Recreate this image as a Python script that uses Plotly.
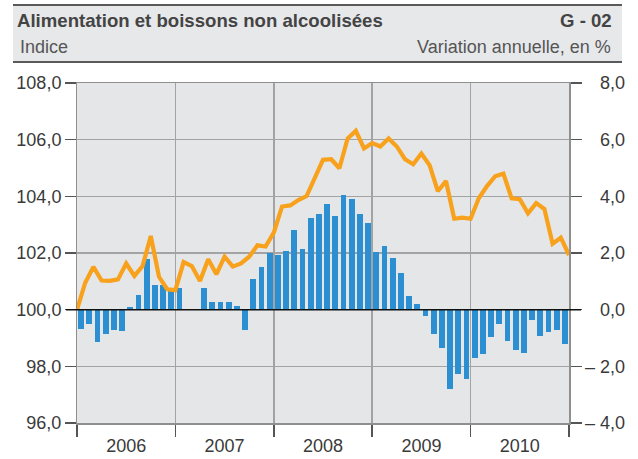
import plotly.graph_objects as go

# ---- data ----
years = ["2006", "2007", "2008", "2009", "2010"]

# annual change, % (monthly, Jan 2006 .. Dec 2010)
variation = [
    -0.69, -0.52, -1.15, -0.87, -0.73, -0.76, 0.11, 0.53, 1.80, 0.88, 0.86, 0.75,
    0.75, 0.0, 0.0, 0.75, 0.26, 0.26, 0.26, 0.12, -0.72, 1.10, 1.49, 2.00,
    1.94, 2.08, 2.82, 2.15, 3.25, 3.39, 3.74, 3.32, 4.06, 3.92, 3.39, 3.07,
    2.02, 2.26, 1.81, 1.28, 0.50, 0.19, -0.22, -0.85, -1.36, -2.79, -2.27, -2.44,
    -1.72, -1.55, -0.98, -0.52, -1.12, -1.43, -1.53, -0.38, -0.94, -0.80, -0.70, -1.22,
]

# index (Dec 2005 = 100 .. Dec 2010)
indice = [
    100.00,
    100.95, 101.51, 101.03, 101.02, 101.07, 101.63, 101.19, 101.54, 102.60, 101.16, 100.72, 100.69,
    101.68, 101.54, 101.01, 101.78, 101.25, 101.87, 101.52, 101.63, 101.87, 102.27, 102.23, 102.72,
    103.64, 103.68, 103.87, 104.01, 104.65, 105.29, 105.31, 104.99, 106.04, 106.31, 105.69, 105.88,
    105.76, 106.04, 105.76, 105.31, 105.13, 105.51, 105.10, 104.18, 104.54, 103.21, 103.25, 103.21,
    103.93, 104.36, 104.71, 104.80, 103.93, 103.90, 103.40, 103.76, 103.55, 102.33, 102.54, 101.93,
]

left_ticks = [96, 98, 100, 102, 104, 106, 108]
left_text = ["96,0", "98,0", "100,0", "102,0", "104,0", "106,0", "108,0"]
right_ticks = [-4, -2, 0, 2, 4, 6, 8]
right_text = ["\u2013 4,0", "\u2013 2,0", "\u00a0\u00a0\u00a00,0", "\u00a0\u00a0\u00a02,0",
              "\u00a0\u00a0\u00a04,0", "\u00a0\u00a0\u00a06,0", "\u00a0\u00a0\u00a08,0"]

# ---- styling ----
FONT = "Liberation Sans, Arial, sans-serif"
TXT = "#3a3a3a"
GRID = "#a3a3a3"
ORANGE = "#F7A11C"
BLUE = "#2B8FD1"

W, H = 638, 459
ML, MR, MT, MB = 77, 69, 83, 36
PW, PH = W - ML - MR, H - MT - MB


def px_x(x):
    return (x - ML) / PW


def px_y(y):
    return (H - MB - y) / PH


n_months = len(variation)
bar_x = [i + 0.5 for i in range(n_months)]
line_x = list(range(len(indice)))

fig = go.Figure()
fig.add_trace(go.Bar(x=bar_x, y=variation, width=0.72, marker=dict(color=BLUE, line=dict(width=0)),
                     yaxis="y", xaxis="x", showlegend=False))
fig.add_trace(go.Scatter(x=line_x, y=indice, mode="lines", line=dict(color=ORANGE, width=4.2),
                         yaxis="y2", xaxis="x", showlegend=False))

year_pos = [12 * i + 6 for i in range(len(years))]
fig.update_layout(
    width=W, height=H,
    margin=dict(l=ML, r=MR, t=MT, b=MB, pad=0, autoexpand=False),
    paper_bgcolor="white", plot_bgcolor="#e5e6e8",
    font=dict(family=FONT, size=18, color=TXT),
    bargap=0,
    xaxis=dict(range=[0, 60], tickvals=year_pos, ticktext=years, ticks="outside",
               ticklen=6, tickcolor="rgba(0,0,0,0)", showgrid=False, zeroline=False,
               showline=True, linecolor="#8f8f8f", linewidth=1.5, mirror=True,
               minor=dict(tickvals=[0, 12, 24, 36, 48, 60], ticks="outside", ticklen=12,
                          tickcolor="#555555", tickwidth=1.5, showgrid=True,
                          gridcolor=GRID, gridwidth=1.5),
               fixedrange=True),
    yaxis=dict(range=[-4, 8], side="right", tickvals=right_ticks, ticktext=right_text,
               ticks="outside", ticklen=11, tickcolor="#555555", tickwidth=1.5,
               showgrid=True, gridcolor=GRID, gridwidth=1.5, zeroline=False,
               showline=True, linecolor="#8f8f8f", linewidth=1.5, mirror=True,
               fixedrange=True),
    yaxis2=dict(range=[96, 108], side="left", overlaying="y", tickvals=left_ticks,
                ticktext=left_text, ticks="outside", ticklen=11, tickcolor="#555555",
                tickwidth=1.5, showgrid=False, zeroline=False, showline=False,
                fixedrange=True),
)

# zero line of the variation axis
fig.add_shape(type="line", xref="paper", yref="y", x0=-11 / PW, x1=1 + 12 / PW, y0=0, y1=0,
              line=dict(color="#111111", width=1.5), layer="above")

# header band
fig.add_shape(type="rect", xref="paper", yref="paper", x0=px_x(13), x1=px_x(622),
              y0=px_y(62), y1=px_y(5), fillcolor="#e7e8ea", line=dict(width=0), layer="below")
for yy in (5, 62):
    fig.add_shape(type="line", xref="paper", yref="paper", x0=px_x(13), x1=px_x(622),
                  y0=px_y(yy), y1=px_y(yy), line=dict(color="#5a5a5a", width=1.8))

def ann(text, x, y, anchor, bold=False, color=TXT, size=18):
    fig.add_annotation(text=f"<b>{text}</b>" if bold else text, xref="paper", yref="paper",
                       x=px_x(x), y=px_y(y), xanchor=anchor, yanchor="middle",
                       showarrow=False, font=dict(family=FONT, size=size, color=color))

ann("Alimentation et boissons non alcoolisées", 15, 20, "left", bold=True, color="#444444", size=18.6)
ann("G - 02", 614, 20, "right", bold=True, color="#444444", size=18.6)
ann("Indice", 18, 47, "left", color="#555555")
ann("Variation annuelle, en %", 613, 47, "right", color="#555555")

fig.write_html("out.html", config={"displayModeBar": False, "staticPlot": True},
               post_script="document.body.style.margin='0';document.body.style.overflow='hidden';")
